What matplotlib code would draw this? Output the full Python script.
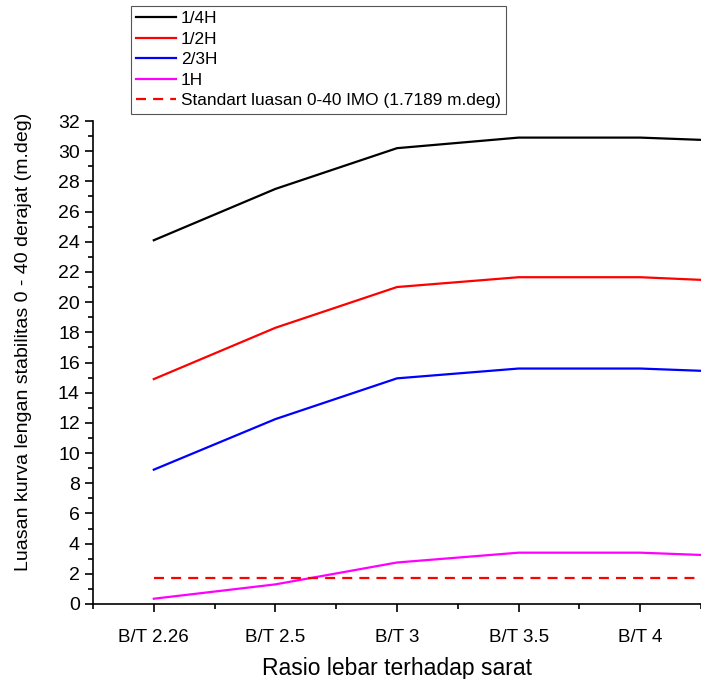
"""Plot luasan kurva lengan stabilitas vs rasio B/T."""
import matplotlib
matplotlib.use("Agg")
import matplotlib.pyplot as plt
from matplotlib.ticker import MultipleLocator

plt.rcParams['font.family'] = ['Liberation Sans', 'DejaVu Sans']

# categories (last one lies outside the visible range, only the line reaches it)
categories = ["B/T 2.26", "B/T 2.5", "B/T 3", "B/T 3.5", "B/T 4", "B/T 4.5"]

# luasan 0-40 derajat (m.deg) per loading condition
h_quarter = [24.1, 27.5, 30.2, 30.9, 30.9, 30.6]
h_half = [14.9, 18.3, 21.0, 21.65, 21.65, 21.3]
h_twothird = [8.9, 12.25, 14.95, 15.6, 15.6, 15.3]
h_full = [0.35, 1.3, 2.75, 3.4, 3.4, 3.1]
imo_standard = 1.7189

series = [
    ("1/4H", h_quarter, "black"),
    ("1/2H", h_half, "red"),
    ("2/3H", h_twothird, "blue"),
    ("1H", h_full, "magenta"),
]

fig = plt.figure(figsize=(7.01, 6.79), dpi=100)
ax = fig.add_axes([93 / 701, 1 - 604 / 679, 1 - 93 / 701, (604 - 121) / 679])

x = list(range(1, len(categories) + 1))
for label, values, color in series:
    ax.plot(x, values, color=color, lw=1.6, label=label)

ax.plot(x, [imo_standard] * len(x), color="red", lw=1.6,
        linestyle=(0, (4.5, 3.2)),
        label="Standart luasan 0-40 IMO (1.7189 m.deg)")

# ticks
ax.set_xticks(x)
ax.set_xticklabels(categories)
ax.xaxis.set_minor_locator(MultipleLocator(0.5))
ax.yaxis.set_major_locator(MultipleLocator(2))
ax.yaxis.set_minor_locator(MultipleLocator(1))
ax.tick_params(which="major", direction="out", length=6, width=1.2,
               labelsize=14)
ax.tick_params(axis="x", labelsize=13.5, pad=12)
ax.tick_params(which="minor", direction="out", length=3.5, width=1.2)

# axes limits (after the ticks, so the hidden category stays outside)
ax.set_xlim(0.5, 5.5)
ax.set_ylim(0, 32)

for side in ("top", "right"):
    ax.spines[side].set_visible(False)
for side in ("left", "bottom"):
    ax.spines[side].set_linewidth(1.2)

# label axes
ax.set_xlabel("Rasio lebar terhadap sarat", fontsize=16.5, labelpad=8)
ax.set_ylabel("Luasan kurva lengan stabilitas 0 - 40 derajat (m.deg)",
              fontsize=14)
ax.yaxis.set_label_coords(-0.1, (604 - 342) / 483)

# legend above the plot
leg = fig.legend(loc="upper left", bbox_to_anchor=(131 / 701, 1 - 6 / 679),
                 borderaxespad=0, fancybox=False, framealpha=1,
                 edgecolor="#555555", fontsize=12.4, handlelength=2.3,
                 handletextpad=0.3, labelspacing=0.32, borderpad=0.3)
leg.get_frame().set_linewidth(0.8)

fig.savefig("out.png", dpi=100)
